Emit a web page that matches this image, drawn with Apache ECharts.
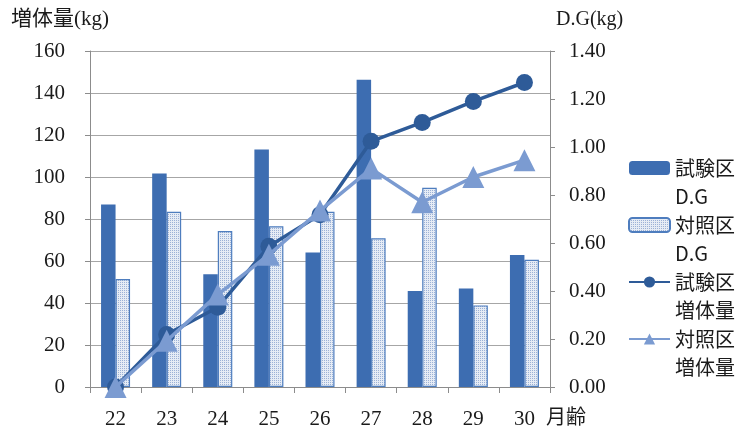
<!DOCTYPE html>
<html>
<head>
<meta charset="utf-8">
<script src="https://cdn.jsdelivr.net/npm/echarts@6/dist/echarts.min.js"></script>
<style>
  html, body { margin: 0; padding: 0; background: #ffffff; }
  #chart { width: 739px; height: 432px; }
</style>
</head>
<body>
<div id="chart"></div>
<script>
// Age in months (x axis categories)
const months = ['22', '23', '24', '25', '26', '27', '28', '29', '30'];

// Daily gain, kg/day (right axis, bars)
const testDG = [0.76, 0.89, 0.47, 0.99, 0.56, 1.28, 0.40, 0.41, 0.55];
const ctrlDG = [0.45, 0.73, 0.65, 0.67, 0.73, 0.62, 0.83, 0.34, 0.53];

// Cumulative weight gain, kg (left axis, lines)
const testGain = [0, 25, 38, 67, 82, 117, 126, 136, 145];
const ctrlGain = [0, 22, 44, 63, 84, 104, 88, 100, 108];

// Axis ranges
const gainAxis = { min: 0, max: 160, interval: 20 };
const dgAxis = { min: 0, max: 1.4, interval: 0.2 };

const serif = '"Liberation Serif", "DejaVu Serif", serif';
const gothic = '"Noto Sans CJK JP", "Noto Sans", sans-serif';
const jpSerif = '"Liberation Serif", "Noto Sans CJK JP", serif';

const BLUE = '#3D6DB1';
const NAVY = '#2E5B98';
const LIGHT = '#7B9BD1';
const GRID = '#A6A6A6';

// fine dotted fill for the control-group bars
function dotPattern() {
  const c = document.createElement('canvas');
  c.width = 2; c.height = 2;
  const g = c.getContext('2d');
  g.fillStyle = '#E6ECF5';
  g.fillRect(0, 0, 2, 2);
  g.fillStyle = '#9CB1D6';
  g.fillRect(0, 0, 1, 1);
  return c;
}
const dotted = { image: dotPattern(), repeat: 'repeat' };

const chart = echarts.init(document.getElementById('chart'), null, { renderer: 'canvas' });

chart.setOption({
  animation: false,
  backgroundColor: '#ffffff',
  title: [
    { text: '増体量(kg)', left: 11, top: 9, padding: 0,
      textStyle: { fontFamily: jpSerif, fontSize: 21, fontWeight: 'normal', color: '#1a1a1a' } },
    { text: 'D.G(kg)', left: 556, top: 10, padding: 0,
      textStyle: { fontFamily: serif, fontSize: 20, fontWeight: 'normal', color: '#1a1a1a' } },
    { text: '月齢', left: 546, top: 406, padding: 0,
      textStyle: { fontFamily: gothic, fontSize: 20, fontWeight: 'normal', color: '#1a1a1a' } }
  ],
  grid: { left: 90, right: 189, top: 51, bottom: 45, containLabel: false },
  legend: {
    orient: 'vertical',
    left: 628,
    top: 126,
    padding: 0,
    itemGap: -27,
    itemWidth: 41,
    itemHeight: 14,
    selectedMode: false,
    textStyle: {
      fontFamily: gothic, fontSize: 20, color: '#1a1a1a', lineHeight: 28
    },
    // blank first line keeps the icon level with the first line of text
    formatter: function (name) {
      const parts = name.split(' ');
      return '\n' + parts[0] + '\n' + parts[1];
    },
    data: ['試験区 D.G', '対照区 D.G', '試験区 増体量', '対照区 増体量']
  },
  xAxis: {
    type: 'category',
    data: months,
    boundaryGap: true,
    axisLine: { lineStyle: { color: '#8C8C8C', width: 1 } },
    axisTick: { show: true, length: 6, lineStyle: { color: '#8C8C8C' } },
    axisLabel: { margin: 22, fontFamily: serif, fontSize: 21, color: '#1a1a1a' },
    splitLine: { show: false }
  },
  yAxis: [
    {
      type: 'value',
      min: gainAxis.min, max: gainAxis.max, interval: gainAxis.interval,
      axisLine: { show: true, lineStyle: { color: '#8C8C8C' } },
      axisTick: { show: true, length: 5, lineStyle: { color: '#8C8C8C' } },
      axisLabel: { margin: 25, fontFamily: serif, fontSize: 21, color: '#1a1a1a' },
      splitLine: { show: true, lineStyle: { color: GRID, width: 1 } }
    },
    {
      type: 'value',
      min: dgAxis.min, max: dgAxis.max, interval: dgAxis.interval,
      position: 'right',
      axisLine: { show: true, lineStyle: { color: '#8C8C8C' } },
      axisTick: { show: true, length: 5, lineStyle: { color: '#8C8C8C' } },
      axisLabel: {
        margin: 19, fontFamily: serif, fontSize: 21, color: '#1a1a1a',
        formatter: function (v) { return v.toFixed(2); }
      },
      splitLine: { show: false }
    }
  ],
  series: [
    {
      name: '試験区 D.G',
      type: 'bar',
      yAxisIndex: 1,
      data: testDG,
      barWidth: 14.5,
      barGap: '0%',
      itemStyle: { color: BLUE }
    },
    {
      name: '対照区 D.G',
      type: 'bar',
      yAxisIndex: 1,
      data: ctrlDG,
      barWidth: 14.5,
      barGap: '0%',
      itemStyle: { color: dotted, borderColor: '#4E7DBE', borderWidth: 1.2 }
    },
    {
      name: '試験区 増体量',
      type: 'line',
      yAxisIndex: 0,
      data: testGain,
      symbol: 'circle',
      symbolSize: 17,
      lineStyle: { color: NAVY, width: 3.5 },
      itemStyle: { color: NAVY },
      z: 4
    },
    {
      name: '対照区 増体量',
      type: 'line',
      yAxisIndex: 0,
      data: ctrlGain,
      symbol: 'triangle',
      symbolSize: 22,
      lineStyle: { color: LIGHT, width: 3.5 },
      itemStyle: { color: LIGHT },
      z: 5
    }
  ]
});
</script>
</body>
</html>
